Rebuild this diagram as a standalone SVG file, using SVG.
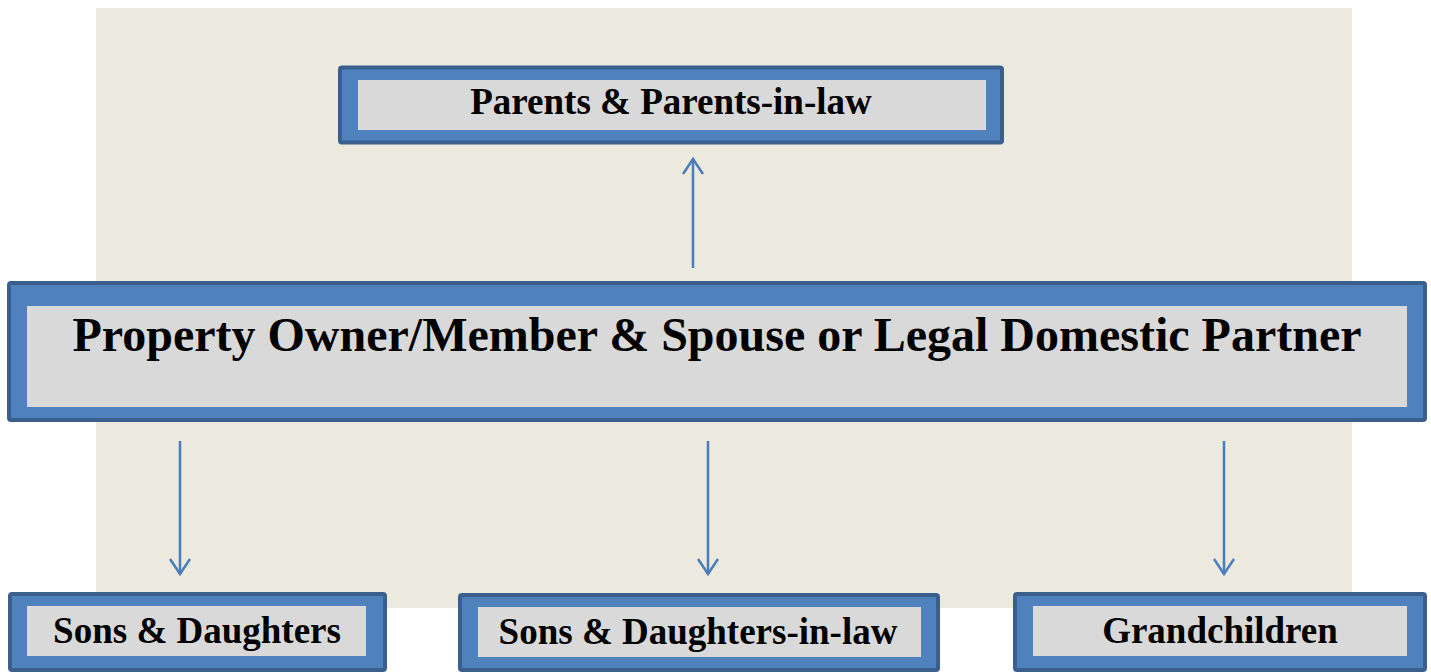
<svg xmlns="http://www.w3.org/2000/svg" width="1431" height="672" viewBox="0 0 1431 672">
<defs>
<style>
.outer{fill:#4F81BD;stroke:#3B5F8C;stroke-width:4}
.inner{fill:#D9D9D9}
.t{font-family:"Liberation Serif","Times New Roman",serif;font-weight:bold;fill:#000;text-anchor:middle}
.c{stroke:#4A7EBB;stroke-width:2.5;fill:none}
</style>
<marker id="ah" viewBox="0 0 20 22" refX="18" refY="11" markerWidth="20" markerHeight="22" markerUnits="userSpaceOnUse" orient="auto">
<path d="M3,1 L18,11 L3,21" fill="none" stroke="#4A7EBB" stroke-width="2.5"/>
</marker>
</defs>
<rect x="96" y="8" width="1256" height="600" fill="#ECE9DF"/>
<g id="connectors">
<line class="c" x1="693" y1="268" x2="693" y2="159" marker-end="url(#ah)"/>
<line class="c" x1="180" y1="441" x2="180" y2="574" marker-end="url(#ah)"/>
<line class="c" x1="708" y1="441" x2="708" y2="574" marker-end="url(#ah)"/>
<line class="c" x1="1224" y1="441" x2="1224" y2="574" marker-end="url(#ah)"/>
</g>
<g id="parents">
<rect class="outer" x="340" y="67.5" width="662" height="75" rx="2"/>
<rect class="inner" x="358" y="80" width="628" height="50"/>
<text class="t" x="671" y="114" font-size="37">Parents &amp; Parents-in-law</text>
</g>
<g id="owner">
<rect class="outer" x="9" y="283" width="1416" height="137" rx="2"/>
<rect class="inner" x="27" y="306" width="1380" height="101"/>
<text class="t" x="717" y="351" font-size="48">Property Owner/Member &amp; Spouse or Legal Domestic Partner</text>
</g>
<g id="sons">
<rect class="outer" x="10" y="594" width="375" height="76" rx="2"/>
<rect class="inner" x="27" y="606" width="339" height="50"/>
<text class="t" x="197" y="643" font-size="37">Sons &amp; Daughters</text>
</g>
<g id="sonsinlaw">
<rect class="outer" x="460" y="595" width="478" height="75" rx="2"/>
<rect class="inner" x="478" y="607" width="443" height="50"/>
<text class="t" x="698" y="644" font-size="37">Sons &amp; Daughters-in-law</text>
</g>
<g id="grandchildren">
<rect class="outer" x="1015" y="594" width="410" height="76" rx="2"/>
<rect class="inner" x="1033" y="606" width="374" height="50"/>
<text class="t" x="1220" y="643" font-size="37">Grandchildren</text>
</g>
</svg>
